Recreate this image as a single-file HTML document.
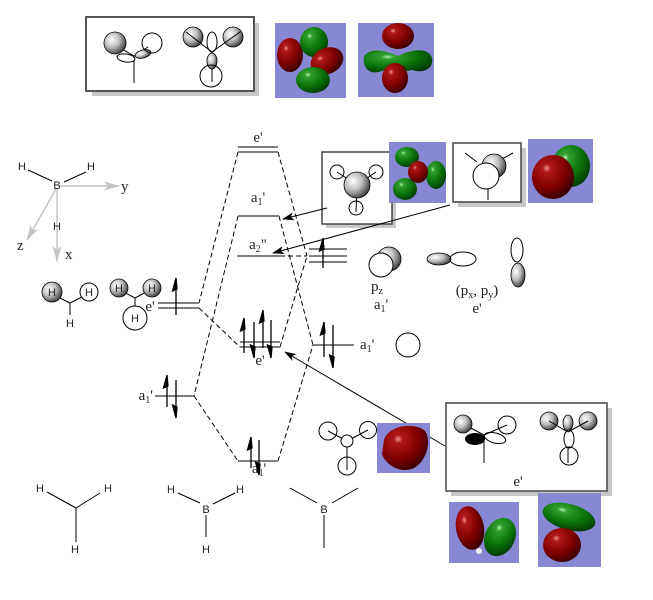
<!DOCTYPE html>
<html><head><meta charset="utf-8"><style>
html,body{margin:0;padding:0;background:#fff;}
svg{display:block;}
.t{font-family:"Liberation Serif",serif;font-size:15px;fill:#222;}
.s{font-family:"Liberation Sans",sans-serif;font-size:11px;fill:#222;}
.lv{stroke:#808080;stroke-width:2;}
.d{stroke:#000;stroke-width:1;stroke-dasharray:5,3;fill:none;}
.k{stroke:#000;stroke-width:1;fill:none;}
.o{stroke:#000;stroke-width:1;fill:#fff;}
</style></head><body>
<svg width="653" height="600" viewBox="0 0 653 600" xmlns="http://www.w3.org/2000/svg">
<defs>
<radialGradient id="gs" cx="0.35" cy="0.35" r="0.75"><stop offset="0" stop-color="#ffffff"/><stop offset="0.45" stop-color="#c0c0c0"/><stop offset="1" stop-color="#2a2a2a"/></radialGradient>
<radialGradient id="gr" cx="0.35" cy="0.3" r="0.8"><stop offset="0" stop-color="#f09090"/><stop offset="0.12" stop-color="#b01818"/><stop offset="0.55" stop-color="#800000"/><stop offset="1" stop-color="#2a0000"/></radialGradient>
<radialGradient id="gg" cx="0.35" cy="0.3" r="0.8"><stop offset="0" stop-color="#b0f0b0"/><stop offset="0.12" stop-color="#30a030"/><stop offset="0.55" stop-color="#0a720a"/><stop offset="1" stop-color="#023202"/></radialGradient>
<marker id="m" markerWidth="12" markerHeight="8" refX="11" refY="4" orient="auto" markerUnits="userSpaceOnUse"><path d="M0,0 L12,4 L0,8 L3,4 z" fill="#000"/></marker>
<marker id="ga" markerWidth="16" markerHeight="9" refX="15" refY="4.5" orient="auto" markerUnits="userSpaceOnUse"><path d="M0,0 L16,4.5 L0,9 L4,4.5 z" fill="#c4c4c4"/></marker>
</defs>

<!-- ===== top box ===== -->
<rect x="92" y="23" width="167" height="73" fill="#c8c8c8"/>
<rect x="86" y="17" width="168" height="74" fill="#fff" stroke="#555" stroke-width="2"/>
<line class="k" x1="122" y1="49" x2="134" y2="56"/>
<line class="k" x1="134" y1="56" x2="148" y2="47"/>
<line class="k" x1="134" y1="56" x2="134" y2="83"/>
<ellipse cx="126" cy="58" rx="9" ry="4" class="o" transform="rotate(8 126 58)"/>
<ellipse cx="143" cy="54" rx="8" ry="4" fill="url(#gs)" stroke="#000" stroke-width="0.8" transform="rotate(-15 143 54)"/>
<circle cx="115" cy="43" r="11" fill="url(#gs)" stroke="#000" stroke-width="0.8"/>
<circle cx="152" cy="43" r="10" fill="none" stroke="#000"/>
<line class="k" x1="212" y1="52" x2="212" y2="82"/>
<ellipse cx="212" cy="42" rx="5" ry="10" class="o"/>
<ellipse cx="212" cy="61" rx="5" ry="8" fill="url(#gs)" stroke="#000" stroke-width="0.8"/>
<circle cx="211" cy="76" r="11" fill="none" stroke="#000"/>
<circle cx="193" cy="37" r="10" fill="url(#gs)" stroke="#000" stroke-width="0.8"/>
<circle cx="233" cy="37" r="10" fill="url(#gs)" stroke="#000" stroke-width="0.8"/>
<line class="k" x1="186" y1="32" x2="212" y2="52"/>
<line class="k" x1="240" y1="32" x2="212" y2="52"/>

<!-- orbital image 1 -->
<rect x="275" y="23" width="71" height="75" fill="#8787d3"/>
<ellipse cx="290" cy="55" rx="13" ry="17" fill="url(#gr)"/>
<ellipse cx="314" cy="42" rx="14" ry="15" fill="url(#gg)"/>
<ellipse cx="327" cy="61" rx="17" ry="13" fill="url(#gr)" transform="rotate(-25 327 61)"/>
<ellipse cx="313" cy="80" rx="17" ry="13" fill="url(#gg)"/>
<!-- orbital image 2 -->
<rect x="358" y="23" width="76" height="74" fill="#8787d3"/>
<ellipse cx="398" cy="36" rx="16" ry="13" fill="url(#gr)"/>
<path d="M364,56 C372,46 388,52 398,56 C410,50 428,46 432,58 C434,68 424,74 412,70 C404,72 392,72 384,70 C372,76 362,70 364,56 Z" fill="url(#gg)"/>
<ellipse cx="395" cy="78" rx="13" ry="15" fill="url(#gr)"/>

<!-- ===== axes ===== -->
<text class="s" x="22" y="170" text-anchor="middle">H</text>
<text class="s" x="91" y="170" text-anchor="middle">H</text>
<line class="k" x1="28" y1="170" x2="52" y2="181"/>
<line class="k" x1="86" y1="172" x2="64" y2="182"/>
<line x1="60" y1="186" x2="119" y2="186" stroke="#c4c4c4" stroke-width="1.5" marker-end="url(#ga)"/>
<line x1="57" y1="189" x2="57" y2="261" stroke="#c4c4c4" stroke-width="1.5" marker-end="url(#ga)"/>
<line x1="56" y1="189" x2="27" y2="240" stroke="#c4c4c4" stroke-width="1.5" marker-end="url(#ga)"/>
<text class="s" x="57" y="189" text-anchor="middle">B</text>
<text class="s" x="57" y="230" text-anchor="middle">H</text>
<text class="t" x="121" y="191">y</text>
<text class="t" x="17" y="250">z</text>
<text class="t" x="65" y="259">x</text>

<!-- H fragment orbitals -->
<line class="k" x1="58" y1="297" x2="70" y2="303"/>
<line class="k" x1="82" y1="297" x2="70" y2="303"/>
<line class="k" x1="70" y1="303" x2="70" y2="315"/>
<circle cx="52" cy="292" r="10" fill="url(#gs)" stroke="#000" stroke-width="0.8"/>
<circle cx="89" cy="292" r="9" class="o"/>
<text class="s" x="52" y="296" text-anchor="middle">H</text>
<text class="s" x="89" y="296" text-anchor="middle">H</text>
<text class="s" x="70" y="327" text-anchor="middle">H</text>

<line class="k" x1="124" y1="292" x2="135" y2="298"/>
<line class="k" x1="146" y1="292" x2="135" y2="298"/>
<line class="k" x1="135" y1="298" x2="135" y2="307"/>
<circle cx="119" cy="288" r="9" fill="url(#gs)" stroke="#000" stroke-width="0.8"/>
<circle cx="152" cy="288" r="9" fill="url(#gs)" stroke="#000" stroke-width="0.8"/>
<circle cx="135" cy="318" r="12" class="o"/>
<text class="s" x="119" y="292" text-anchor="middle">H</text>
<text class="s" x="152" y="292" text-anchor="middle">H</text>
<text class="s" x="135" y="322" text-anchor="middle">H</text>

<!-- ===== dashed correlation lines ===== -->
<line class="d" x1="238" y1="152" x2="199" y2="303"/>
<line class="d" x1="278" y1="152" x2="307" y2="256"/>
<line class="d" x1="238" y1="216" x2="194" y2="396"/>
<line class="d" x1="279" y1="216" x2="313" y2="345"/>
<line class="d" x1="280" y1="256" x2="307" y2="256"/>
<line class="d" x1="199" y1="308" x2="240" y2="347"/>
<line class="d" x1="280" y1="347" x2="307" y2="256"/>
<line class="d" x1="194" y1="396" x2="238" y2="461"/>
<line class="d" x1="278" y1="461" x2="313" y2="345"/>

<!-- ===== levels ===== -->
<line class="lv" x1="238" y1="147" x2="278" y2="147"/>
<line class="lv" x1="238" y1="152" x2="278" y2="152"/>
<line class="lv" x1="238" y1="216" x2="279" y2="216"/>
<line class="lv" x1="237" y1="256" x2="280" y2="256"/>
<line class="lv" x1="309" y1="249" x2="347" y2="249"/>
<line class="lv" x1="309" y1="256" x2="347" y2="256"/>
<line class="lv" x1="309" y1="262" x2="347" y2="262"/>
<line class="lv" x1="158" y1="303" x2="199" y2="303"/>
<line class="lv" x1="158" y1="308" x2="199" y2="308"/>
<line class="lv" x1="240" y1="342" x2="280" y2="342"/>
<line class="lv" x1="240" y1="347" x2="280" y2="347"/>
<line class="lv" x1="313" y1="345" x2="354" y2="345"/>
<line class="lv" x1="155" y1="396" x2="194" y2="396"/>
<line class="lv" x1="238" y1="461" x2="278" y2="461"/>

<!-- level labels -->
<text class="t" x="258" y="142" text-anchor="middle">e'</text>
<text class="t" x="258" y="202" text-anchor="middle">a<tspan font-size="10" dy="3">1</tspan><tspan dy="-3">'</tspan></text>
<text class="t" x="258" y="249" text-anchor="middle">a<tspan font-size="10" dy="3">2</tspan><tspan dy="-3">"</tspan></text>
<text class="t" x="150" y="311" text-anchor="middle">e'</text>
<text class="t" x="260" y="365" text-anchor="middle">e'</text>
<text class="t" x="360" y="349">a<tspan font-size="10" dy="3">1</tspan><tspan dy="-3">'</tspan></text>
<text class="t" x="153" y="400" text-anchor="end">a<tspan font-size="10" dy="3">1</tspan><tspan dy="-3">'</tspan></text>
<text class="t" x="259" y="473" text-anchor="middle">a<tspan font-size="10" dy="3">1</tspan><tspan dy="-3">'</tspan></text>

<!-- electron arrows -->
<g stroke="#000" stroke-width="1.3" fill="#000">
<line x1="176" y1="315" x2="176" y2="279"/><polygon points="176,278 172.5,291 177,289"/>
<line x1="244" y1="353" x2="244" y2="319"/><polygon points="244,318 240.5,331 245,329"/>
<line x1="254" y1="322" x2="254" y2="357"/><polygon points="254,358 250.5,345 255,347"/>
<line x1="263" y1="348" x2="263" y2="311"/><polygon points="263,310 259.5,323 264,321"/>
<line x1="271" y1="320" x2="271" y2="357"/><polygon points="271,358 267.5,345 272,347"/>
<line x1="324" y1="357" x2="324" y2="323"/><polygon points="324,322 320.5,335 325,333"/>
<line x1="333" y1="325" x2="333" y2="367"/><polygon points="333,368 329.5,355 334,357"/>
<line x1="323" y1="268" x2="323" y2="239"/><polygon points="323,238 319.5,251 324,249"/>
<line x1="167" y1="407" x2="167" y2="376"/><polygon points="167,375 163.5,388 168,386"/>
<line x1="176" y1="380" x2="176" y2="417"/><polygon points="176,418 172.5,405 177,407"/>
<line x1="251" y1="468" x2="251" y2="438"/><polygon points="251,437 247.5,450 252,448"/>
<line x1="259" y1="440" x2="259" y2="474"/><polygon points="259,475 255.5,462 260,464"/>
</g>

<!-- ===== box 1 ===== -->
<rect x="326" y="156" width="70" height="72" fill="#c8c8c8"/>
<rect x="322" y="152" width="70" height="72" fill="#fff" stroke="#444" stroke-width="1.5"/>
<line class="k" x1="357" y1="185" x2="337" y2="172"/>
<line class="k" x1="357" y1="185" x2="376" y2="172"/>
<line class="k" x1="357" y1="185" x2="356" y2="212"/>
<circle cx="337" cy="172" r="7" fill="none" stroke="#000"/>
<circle cx="376" cy="172" r="7" fill="none" stroke="#000"/>
<circle cx="356" cy="208" r="7" fill="none" stroke="#000"/>
<circle cx="357" cy="185" r="13" fill="url(#gs)" stroke="#000" stroke-width="0.8"/>
<!-- orbital image 3 -->
<rect x="389" y="142" width="57" height="61" fill="#8787d3"/>
<ellipse cx="407" cy="157" rx="12" ry="10" fill="url(#gg)"/>
<ellipse cx="436" cy="175" rx="10" ry="14" fill="url(#gg)"/>
<ellipse cx="405" cy="189" rx="12" ry="11" fill="url(#gg)"/>
<ellipse cx="418" cy="172" rx="10" ry="11" fill="url(#gr)"/>

<!-- ===== box 2 ===== -->
<rect x="458" y="148" width="68" height="59" fill="#c8c8c8"/>
<rect x="453" y="143" width="68" height="59" fill="#fff" stroke="#444" stroke-width="1.5"/>
<line class="k" x1="465" y1="153" x2="477" y2="162"/>
<line class="k" x1="513" y1="153" x2="500" y2="160"/>
<circle cx="494" cy="166" r="12" fill="url(#gs)" stroke="#000" stroke-width="0.8"/>
<circle cx="486" cy="176" r="13" class="o"/>
<line class="k" x1="488" y1="189" x2="488" y2="200"/>
<!-- orbital image 4 -->
<rect x="528" y="139" width="65" height="64" fill="#8787d3"/>
<ellipse cx="571" cy="166" rx="19" ry="21" fill="url(#gg)"/>
<ellipse cx="553" cy="177" rx="21" ry="22" fill="url(#gr)"/>

<!-- box arrows -->
<line x1="327" y1="208" x2="283" y2="219" stroke="#000" stroke-width="1" marker-end="url(#m)"/>
<line x1="450" y1="205" x2="273" y2="253" stroke="#000" stroke-width="1" marker-end="url(#m)"/>
<line x1="445" y1="446" x2="285" y2="352" stroke="#000" stroke-width="1" marker-end="url(#m)"/>

<!-- p orbitals -->
<circle cx="389" cy="259" r="12" fill="url(#gs)" stroke="#000" stroke-width="0.8"/>
<circle cx="381" cy="265" r="12" class="o"/>
<ellipse cx="439" cy="259" rx="12" ry="6" fill="url(#gs)" stroke="#000" stroke-width="0.8"/>
<ellipse cx="463" cy="259" rx="13" ry="7" fill="none" stroke="#000"/>
<ellipse cx="517" cy="250" rx="6" ry="12" fill="none" stroke="#000"/>
<ellipse cx="518" cy="275" rx="7" ry="12" fill="url(#gs)" stroke="#000" stroke-width="0.8"/>
<text class="t" x="377" y="291" text-anchor="middle">p<tspan font-size="10" dy="3">z</tspan></text>
<text class="t" x="381" y="309" text-anchor="middle">a<tspan font-size="10" dy="3">1</tspan><tspan dy="-3">'</tspan></text>
<text class="t" x="477" y="295" text-anchor="middle">(p<tspan font-size="10" dy="3">x</tspan><tspan dy="-3">, p</tspan><tspan font-size="10" dy="3">y</tspan><tspan dy="-3">)</tspan></text>
<text class="t" x="477" y="313" text-anchor="middle">e'</text>
<circle cx="408" cy="345" r="12" fill="none" stroke="#000"/>

<!-- bottom-middle orbital -->
<line class="k" x1="347" y1="441" x2="328" y2="431"/>
<line class="k" x1="347" y1="441" x2="368" y2="430"/>
<line class="k" x1="347" y1="441" x2="347" y2="470"/>
<circle cx="328" cy="431" r="9" fill="none" stroke="#000"/>
<circle cx="368" cy="430" r="8.5" fill="none" stroke="#000"/>
<circle cx="347" cy="441" r="6" class="o"/>
<circle cx="347" cy="466" r="9" fill="none" stroke="#000"/>
<rect x="377" y="423" width="53" height="50" fill="#8787d3"/>
<path d="M384,440 C388,426 412,422 424,430 C432,438 428,460 414,468 C402,474 386,466 382,454 Z" fill="url(#gr)"/>

<!-- ===== bottom box ===== -->
<rect x="451" y="408" width="161" height="88" fill="#c8c8c8"/>
<rect x="446" y="403" width="161" height="88" fill="#fff" stroke="#444" stroke-width="1.5"/>
<line class="k" x1="463" y1="424" x2="484" y2="435"/>
<line class="k" x1="484" y1="435" x2="507" y2="425"/>
<line class="k" x1="484" y1="435" x2="484" y2="463"/>
<ellipse cx="475" cy="439" rx="10" ry="6" fill="#000"/>
<ellipse cx="495" cy="438" rx="11" ry="5" fill="none" stroke="#000" transform="rotate(15 495 438)"/>
<circle cx="463" cy="424" r="9" fill="url(#gs)" stroke="#000" stroke-width="0.8"/>
<circle cx="507" cy="425" r="9" fill="none" stroke="#000"/>
<line class="k" x1="568" y1="432" x2="568" y2="463"/>
<ellipse cx="568" cy="423" rx="5" ry="8" fill="url(#gs)" stroke="#000" stroke-width="0.8"/>
<ellipse cx="569" cy="439" rx="5" ry="9" class="o"/>
<circle cx="569" cy="456" r="9" fill="none" stroke="#000"/>
<circle cx="549" cy="421" r="9" fill="url(#gs)" stroke="#000" stroke-width="0.8"/>
<circle cx="588" cy="421" r="9" fill="url(#gs)" stroke="#000" stroke-width="0.8"/>
<line class="k" x1="549" y1="421" x2="568" y2="432"/>
<line class="k" x1="588" y1="421" x2="568" y2="432"/>
<text class="t" x="518" y="486" text-anchor="middle">e'</text>

<!-- bottom orbital images -->
<rect x="449" y="502" width="70" height="61" fill="#8787d3"/>
<ellipse cx="470" cy="528" rx="14" ry="22" fill="url(#gr)" transform="rotate(-10 470 528)"/>
<ellipse cx="500" cy="537" rx="15" ry="20" fill="url(#gg)" transform="rotate(25 500 537)"/>
<circle cx="479" cy="551" r="3" fill="#eee"/>
<rect x="538" y="493" width="63" height="74" fill="#8787d3"/>
<ellipse cx="569" cy="517" rx="27" ry="13" fill="url(#gg)" transform="rotate(15 569 517)"/>
<ellipse cx="562" cy="545" rx="19" ry="17" fill="url(#gr)"/>

<!-- ===== bottom structures ===== -->
<text class="s" x="40" y="492" text-anchor="middle">H</text>
<text class="s" x="108" y="492" text-anchor="middle">H</text>
<text class="s" x="75" y="553" text-anchor="middle">H</text>
<line class="k" x1="47" y1="492" x2="76" y2="508"/>
<line class="k" x1="100" y1="493" x2="76" y2="508"/>
<line class="k" x1="76" y1="508" x2="76" y2="542"/>

<text class="s" x="171" y="493" text-anchor="middle">H</text>
<text class="s" x="240" y="493" text-anchor="middle">H</text>
<text class="s" x="206" y="513" text-anchor="middle">B</text>
<text class="s" x="206" y="553" text-anchor="middle">H</text>
<line class="k" x1="178" y1="493" x2="200" y2="503"/>
<line class="k" x1="235" y1="493" x2="213" y2="504"/>
<line class="k" x1="206" y1="515" x2="206" y2="537"/>

<text class="s" x="324" y="513" text-anchor="middle">B</text>
<line class="k" x1="290" y1="488" x2="317" y2="503"/>
<line class="k" x1="358" y1="488" x2="332" y2="503"/>
<line class="k" x1="324" y1="515" x2="324" y2="548"/>
</svg>
</body></html>
